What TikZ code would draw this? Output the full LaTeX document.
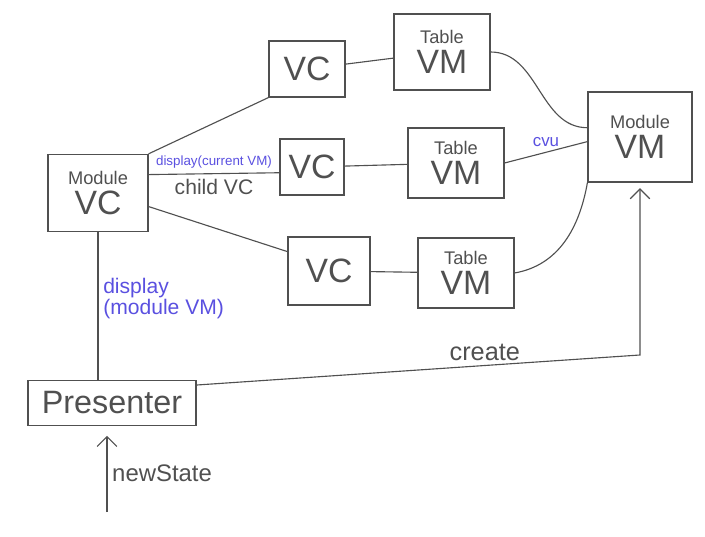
\documentclass[tikz,border=0pt]{standalone}
\usepackage{fontspec}
\setmainfont{Liberation Sans}
\usetikzlibrary{arrows.meta}
\definecolor{ink}{HTML}{505050}
\definecolor{pen}{HTML}{5A50E0}

\begin{document}
\begin{tikzpicture}[x=0.025cm,y=-0.025cm,
    box/.style={draw=ink, line width=0.8pt, align=center, inner sep=0pt, text=ink},
    wire/.style={draw=ink, line width=0.8pt},
    note/.style={text=pen, font=\fontsize{15}{15}\selectfont},
    >={Straight Barb[length=7pt,width=14pt]}]
\useasboundingbox (0,0) rectangle (705,537);

\node (modvc) at (98,193) [box, minimum width=2.5cm, minimum height=1.93cm]
    {\fontsize{13}{13}\selectfont Module\\[4pt]\fontsize{24}{24}\selectfont VC};
\node (presenter) at (112,403) [box, minimum width=4.2cm, minimum height=1.12cm]
    {\fontsize{23}{23}\selectfont Presenter};
\node (modvm) at (640,137) [box, minimum width=2.6cm, minimum height=2.25cm]
    {\fontsize{13}{13}\selectfont Module\\[4pt]\fontsize{24}{24}\selectfont VM};

\node (vctop) at (307,69) [box, minimum width=1.9cm, minimum height=1.4cm] {\fontsize{24}{24}\selectfont VC};
\node (vcmid) at (312,167) [box, minimum width=1.6cm, minimum height=1.4cm] {\fontsize{24}{24}\selectfont VC};
\node (vcbot) at (329,271) [box, minimum width=2.05cm, minimum height=1.7cm] {\fontsize{24}{24}\selectfont VC};

\node (tabtop) at (442,52) [box, minimum width=2.4cm, minimum height=1.9cm]
    {\fontsize{13}{13}\selectfont Table\\[4pt]\fontsize{24}{24}\selectfont VM};
\node (tabmid) at (456,163) [box, minimum width=2.4cm, minimum height=1.75cm]
    {\fontsize{13}{13}\selectfont Table\\[4pt]\fontsize{24}{24}\selectfont VM};
\node (tabbot) at (466,273) [box, minimum width=2.4cm, minimum height=1.75cm]
    {\fontsize{13}{13}\selectfont Table\\[4pt]\fontsize{24}{24}\selectfont VM};

\coordinate (createbend) at (640,355);
\coordinate (statein) at (107,512);

\path[wire]
    (modvc.north east) edge (vctop.south west)
    (modvc.20) edge node[above, note, font=\fontsize{9.5}{9.5}\selectfont] {display(current VM)}
        node[below, text=ink, font=\fontsize{15}{15}\selectfont] {child VC} (vcmid.190)
    (modvc.-15) edge (vcbot.155)
    (vctop) edge (tabtop)
    (vcmid) edge (tabmid)
    (vcbot) edge (tabbot)
    (tabtop.east) edge[out=0, in=180] (modvm.170)
    (tabmid.east) edge node[above, note, font=\fontsize{12}{12}\selectfont] {cvu} (modvm.185)
    (tabbot.east) edge[out=10, in=-100] (modvm.south west)
    (modvc.south) edge node[right, note, align=left, pos=0.45] {display\\(module VM)} (modvc.south |- presenter.north);

\draw[wire, ->, shorten >=4pt] (presenter.12) -- node[above, text=ink, font=\fontsize{18}{18}\selectfont, pos=0.65] {create} (createbend) -- (modvm.south);
\draw[wire, ->, shorten >=7pt] (statein) -- node[right, text=ink, font=\fontsize{17}{17}\selectfont, pos=0.45] {newState} (statein |- presenter.south);
\end{tikzpicture}
\end{document}
